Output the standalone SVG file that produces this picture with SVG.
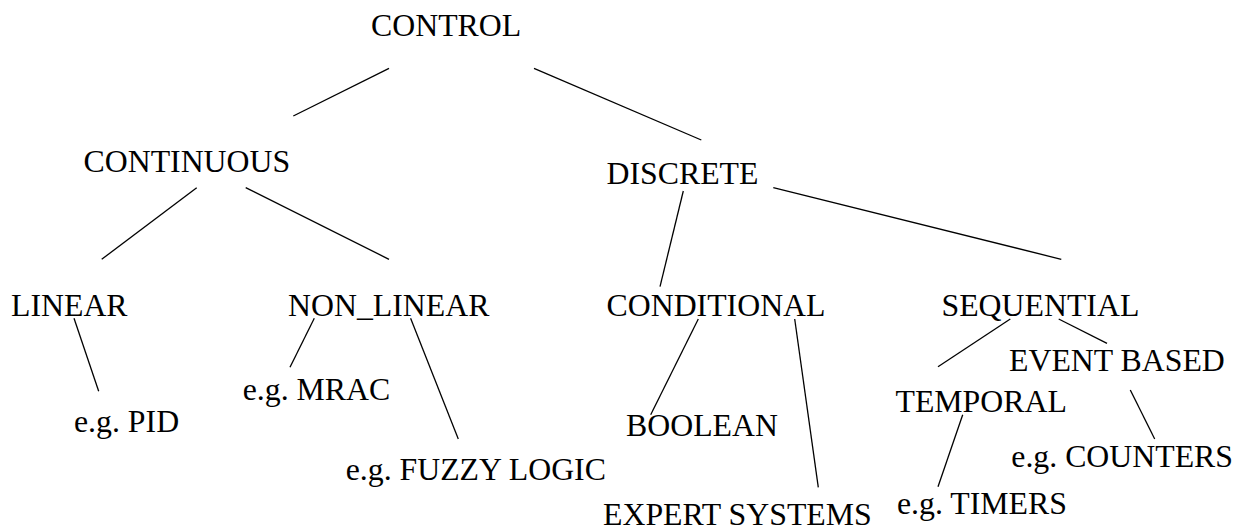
<svg xmlns="http://www.w3.org/2000/svg" width="1241" height="529" viewBox="0 0 1241 529">
<style>
  .t { font-family: 'Liberation Serif', 'Times New Roman', Times, serif; font-size: 31.8px; fill: #000; }
  .c line { stroke: #000; stroke-width: 1.3; }
</style>
<rect width="1241" height="529" fill="#fff"/>
<g id="connectors" class="c">
  <line x1="389" y1="68.3" x2="293.3" y2="116"/>
  <line x1="534" y1="68.3" x2="701.3" y2="140"/>
  <line x1="196.7" y1="187.7" x2="101.7" y2="259.3"/>
  <line x1="245.7" y1="187.7" x2="389" y2="259.3"/>
  <line x1="683.3" y1="191" x2="660" y2="286.7"/>
  <line x1="773.3" y1="187.7" x2="1061.3" y2="259.3"/>
  <line x1="74" y1="318.3" x2="98.7" y2="391.3"/>
  <line x1="314.3" y1="318.3" x2="290" y2="367.3"/>
  <line x1="410.6" y1="318.3" x2="458.3" y2="439"/>
  <line x1="698.3" y1="319" x2="650.7" y2="414.7"/>
  <line x1="794.7" y1="319" x2="818.3" y2="487.3"/>
  <line x1="1010.3" y1="319" x2="938" y2="366.7"/>
  <line x1="1058.7" y1="319" x2="1107" y2="343.3"/>
  <line x1="962.7" y1="414.7" x2="938" y2="486.7"/>
  <line x1="1130.3" y1="390" x2="1154.7" y2="439"/>
</g>
<g id="control"><text class="t" font-family="Liberation Serif, serif" x="371" y="36">CONTROL</text></g>
<g id="continuous"><text class="t" font-family="Liberation Serif, serif" x="83.5" y="172.3">CONTINUOUS</text></g>
<g id="discrete"><text class="t" font-family="Liberation Serif, serif" x="606.5" y="184.3">DISCRETE</text></g>
<g id="linear"><text class="t" font-family="Liberation Serif, serif" x="11" y="315.7">LINEAR</text></g>
<g id="non_linear"><text class="t" font-family="Liberation Serif, serif" x="288" y="315.7">NON_LINEAR</text></g>
<g id="conditional"><text class="t" font-family="Liberation Serif, serif" x="606.5" y="315.7">CONDITIONAL</text></g>
<g id="sequential"><text class="t" font-family="Liberation Serif, serif" x="941.5" y="316.3">SEQUENTIAL</text></g>
<g id="pid"><text class="t" font-family="Liberation Serif, serif" x="74" y="431.7">e.g. PID</text></g>
<g id="mrac"><text class="t" font-family="Liberation Serif, serif" x="242.7" y="399.7">e.g. MRAC</text></g>
<g id="fuzzy"><text class="t" font-family="Liberation Serif, serif" x="345.7" y="480">e.g. FUZZY LOGIC</text></g>
<g id="boolean"><text class="t" font-family="Liberation Serif, serif" x="626" y="435.7">BOOLEAN</text></g>
<g id="expert"><text class="t" font-family="Liberation Serif, serif" x="603" y="525">EXPERT SYSTEMS</text></g>
<g id="event_based"><text class="t" font-family="Liberation Serif, serif" x="1009" y="371.3">EVENT BASED</text></g>
<g id="temporal"><text class="t" font-family="Liberation Serif, serif" x="895.5" y="412.3">TEMPORAL</text></g>
<g id="counters"><text class="t" font-family="Liberation Serif, serif" x="1011.3" y="467.3">e.g. COUNTERS</text></g>
<g id="timers"><text class="t" font-family="Liberation Serif, serif" x="897" y="514">e.g. TIMERS</text></g>
</svg>
